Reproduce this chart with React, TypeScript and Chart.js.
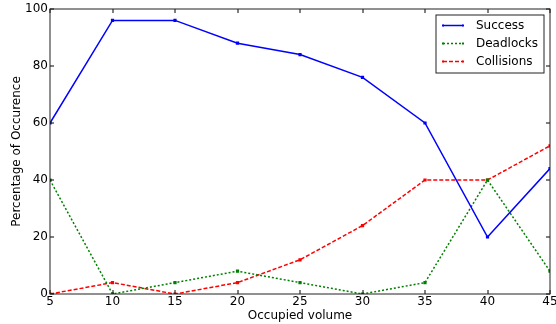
import { useEffect, useRef } from "react";
import { Chart, registerables } from "chart.js";
Chart.register(...registerables);

const volumes = [5, 10, 15, 20, 25, 30, 35, 40, 45];
const success = [60, 96, 96, 88, 84, 76, 60, 20, 44];
const deadlocks = [40, 0, 4, 8, 4, 0, 4, 40, 8];
const collisions = [0, 4, 0, 4, 12, 24, 40, 40, 52];
const seriesNames = ["Success", "Deadlocks", "Collisions"];
const xTitle = "Occupied volume";
const yTitle = "Percentage of Occurence";

const FONT = "DejaVu Sans";
const COLORS = ["#0000ff", "#008000", "#ff0000"];
const DASHES = [[], [2, 2], [4, 2]];

const framePlugin = {
  id: "frame",
  afterDraw(chart: any) {
    const { ctx, chartArea: a, scales } = chart;
    ctx.save();
    ctx.strokeStyle = "#000";
    ctx.lineWidth = 1;
    const tl = 4;
    scales.x.ticks.forEach((t: any) => {
      const px = Math.round(scales.x.getPixelForValue(t.value));
      ctx.beginPath();
      ctx.moveTo(px, a.bottom);
      ctx.lineTo(px, a.bottom - tl);
      ctx.moveTo(px, a.top);
      ctx.lineTo(px, a.top + tl);
      ctx.stroke();
    });
    scales.y.ticks.forEach((t: any) => {
      const py = Math.round(scales.y.getPixelForValue(t.value));
      ctx.beginPath();
      ctx.moveTo(a.left, py);
      ctx.lineTo(a.left + tl, py);
      ctx.moveTo(a.right, py);
      ctx.lineTo(a.right - tl, py);
      ctx.stroke();
    });
    ctx.strokeStyle = "#222";
    ctx.strokeRect(Math.round(a.left), Math.round(a.top), Math.round(a.right - a.left), Math.round(a.bottom - a.top));
    ctx.fillStyle = "#000";
    ctx.font = `12px "${FONT}"`;
    ctx.textAlign = "center";
    ctx.textBaseline = "middle";
    ctx.fillText(xTitle, (a.left + a.right) / 2, 316);
    ctx.save();
    ctx.translate(17, (a.top + a.bottom) / 2);
    ctx.rotate(-Math.PI / 2);
    ctx.fillText(yTitle, 0, 0);
    ctx.restore();
    const bx = 436, by = 15, bw = 108, bh = 58;
    ctx.fillStyle = "#fff";
    ctx.fillRect(bx, by, bw, bh);
    ctx.strokeStyle = "#222";
    ctx.strokeRect(bx, by, bw, bh);
    const rows = [25, 43, 61];
    seriesNames.forEach((name, i) => {
      const y = rows[i] + 0.5;
      ctx.strokeStyle = COLORS[i];
      ctx.lineWidth = 1.5;
      ctx.setLineDash(DASHES[i]);
      ctx.beginPath();
      ctx.moveTo(443, y);
      ctx.lineTo(463, y);
      ctx.stroke();
      ctx.setLineDash([]);
      ctx.fillStyle = COLORS[i];
      ctx.fillRect(442, y - 1, 2, 2);
      ctx.fillRect(462, y - 1, 2, 2);
      ctx.fillStyle = "#000";
      ctx.textAlign = "left";
      ctx.textBaseline = "middle";
      ctx.fillText(name, 476, rows[i] + 1);
    });
    ctx.restore();
  },
};

export default function App() {
  const ref = useRef<HTMLCanvasElement>(null);
  useEffect(() => {
    const allSeries = [success, deadlocks, collisions];
    const chart = new Chart(ref.current!, {
      type: "line",
      data: {
        datasets: allSeries.map((s, i) => ({
          label: seriesNames[i],
          data: volumes.map((v, j) => ({ x: v, y: s[j] })),
          borderColor: COLORS[i],
          backgroundColor: COLORS[i],
          borderWidth: 1.5,
          borderDash: DASHES[i],
          pointRadius: 1.2,
          pointHoverRadius: 1.2,
          pointStyle: "rect",
          tension: 0,
          fill: false,
        })),
      },
      options: {
        animation: false,
        responsive: false,
        events: [],
        layout: { padding: { top: 9, right: 6, left: 0, bottom: 0 } },
        plugins: { legend: { display: false }, tooltip: { enabled: false } },
        scales: {
          x: {
            type: "linear",
            min: 5,
            max: 45,
            ticks: { stepSize: 5, color: "#000", font: { family: FONT, size: 12 }, padding: 1, maxRotation: 0 },
            grid: { display: false, drawTicks: false },
            border: { display: false },
            afterFit: (s: any) => { s.height = 30; s.paddingLeft = 0; s.paddingRight = 0; },
          },
          y: {
            min: 0,
            max: 100,
            ticks: { stepSize: 20, color: "#000", font: { family: FONT, size: 12 }, padding: 2 },
            grid: { display: false, drawTicks: false },
            border: { display: false },
            afterFit: (s: any) => { s.width = 50; s.paddingTop = 0; s.paddingBottom = 0; },
          },
        },
      },
      plugins: [framePlugin],
    });
    return () => chart.destroy();
  }, []);
  return (
    <div style={{ position: "fixed", left: 0, top: 0, width: 556, height: 324, background: "#fff" }}>
      <canvas ref={ref} width={556} height={324} style={{ width: 556, height: 324 }} />
    </div>
  );
}
